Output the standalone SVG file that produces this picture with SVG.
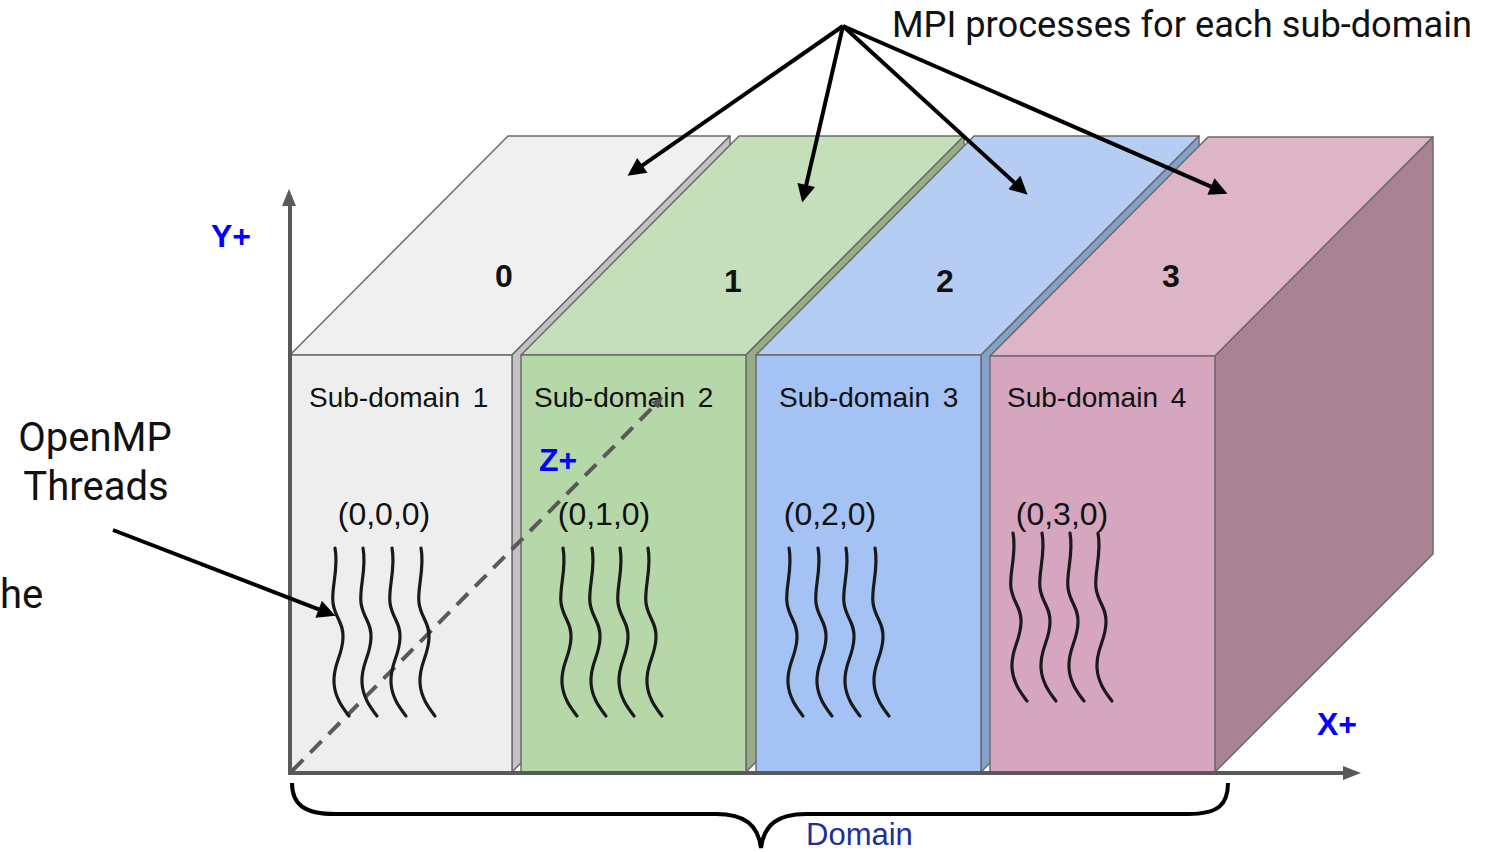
<svg xmlns="http://www.w3.org/2000/svg" width="1499" height="852" viewBox="0 0 1499 852">
  <style>
    .face { stroke: #6b6b6b; stroke-width: 1.5; stroke-linejoin: round; }
    .sub { font-family: "Liberation Sans", Arial, sans-serif; font-size: 28px; fill: #111; word-spacing: 5px; }
    .coord { font-family: "Liberation Sans", Arial, sans-serif; font-size: 32px; fill: #111; text-anchor: middle; }
    .rank { font-family: "Liberation Sans", Arial, sans-serif; font-size: 32px; font-weight: bold; fill: #111; text-anchor: middle; }
    .axislbl { font-family: "Liberation Sans", Arial, sans-serif; font-size: 32px; font-weight: bold; fill: #0000ff; }
    .note { font-family: Roboto, "Liberation Sans", sans-serif; fill: #111; }
    .thread { fill: none; stroke: #1a1a1a; stroke-width: 3.2; stroke-linecap: round; }
    .axis { fill: none; stroke: #595959; stroke-width: 4; }
    .pointer { fill: none; stroke: #000; stroke-width: 4; }
  </style>
  <defs>
    <marker id="head" viewBox="0 0 10 10" refX="7" refY="5" markerWidth="5" markerHeight="4.5" orient="auto" markerUnits="strokeWidth">
      <path d="M0,0 L10,5 L0,10 z" fill="#000"/>
    </marker>
    <marker id="zhead" viewBox="0 0 10 10" refX="5" refY="5" markerWidth="3" markerHeight="3" orient="auto" markerUnits="strokeWidth">
      <path d="M0,1 L10,5 L0,9 z" fill="#555"/>
    </marker>
    <path id="thread" class="thread" d="M0,0 C4,20 -4,40 -2,55 C0,70 9,75 8,90 C7,110 -2,115 -1,135 C0,150 8,160 14,168"/>
  </defs>

  <rect width="1499" height="852" fill="#ffffff"/>

  <!-- Sub-domain 1 -->
  <g id="slab1">
    <polygon class="face" fill="#f0f0f0" points="290,355 508,136 730,136 512,355"/>
    <polygon class="face" fill="#c2c2c2" points="512,355 730,136 730,553 512,772"/>
    <rect class="face" fill="#eeeeee" x="290" y="355" width="222" height="417"/>
    <text class="rank" x="504" y="287">0</text>
    <text class="sub" x="309" y="407">Sub-domain 1</text>
    <text class="coord" x="384" y="525">(0,0,0)</text>
  </g>

  <!-- Sub-domain 2 -->
  <g id="slab2">
    <polygon class="face" fill="#c6dfbb" points="521,355 739,136 964,136 746,355"/>
    <polygon class="face" fill="#95ae88" points="746,355 964,136 964,553 746,772"/>
    <rect class="face" fill="#b6d7a8" x="521" y="355" width="225" height="417"/>
    <text class="rank" x="733" y="292">1</text>
    <text class="sub" x="534" y="407">Sub-domain 2</text>
    <text class="coord" x="604" y="525">(0,1,0)</text>
  </g>

  <!-- Sub-domain 3 -->
  <g id="slab3">
    <polygon class="face" fill="#b5cdf3" points="756,355 974,136 1199,136 981,355"/>
    <polygon class="face" fill="#86a1c9" points="981,355 1199,136 1199,553 981,772"/>
    <rect class="face" fill="#a4c2f4" x="756" y="355" width="225" height="417"/>
    <text class="rank" x="945" y="292">2</text>
    <text class="sub" x="779" y="407">Sub-domain 3</text>
    <text class="coord" x="830" y="525">(0,2,0)</text>
  </g>

  <!-- Sub-domain 4 -->
  <g id="slab4">
    <polygon class="face" fill="#ddb5c7" points="990,356 1208,137 1433,137 1215,356"/>
    <polygon class="face" fill="#a98394" points="1215,356 1433,137 1433,554 1215,772"/>
    <rect class="face" fill="#d5a6bd" x="990" y="356" width="225" height="416"/>
    <text class="rank" x="1171" y="287">3</text>
    <text class="sub" x="1007" y="407">Sub-domain 4</text>
    <text class="coord" x="1062" y="525">(0,3,0)</text>
  </g>

  <!-- axes -->
  <g id="axes">
    <line class="axis" x1="290" y1="774" x2="290" y2="202"/>
    <polygon fill="#595959" points="289,189 282,206 296,206"/>
    <line class="axis" x1="288" y1="773" x2="1346" y2="773"/>
    <polygon fill="#595959" points="1361,773 1343,766 1343,780"/>
    <line x1="292" y1="771" x2="659" y2="401" stroke="#595959" stroke-width="4" stroke-dasharray="16,10" marker-end="url(#zhead)"/>
    <text class="axislbl" x="211" y="247">Y+</text>
    <text class="axislbl" x="539" y="471">Z+</text>
    <text class="axislbl" x="1317" y="735">X+</text>
  </g>

  <!-- OpenMP threads in each sub-domain -->
  <g id="threads">
    <use href="#thread" x="335" y="548"/>
    <use href="#thread" x="363" y="548"/>
    <use href="#thread" x="392" y="548"/>
    <use href="#thread" x="421" y="548"/>
    <use href="#thread" x="563" y="548"/>
    <use href="#thread" x="592" y="548"/>
    <use href="#thread" x="620" y="548"/>
    <use href="#thread" x="648" y="548"/>
    <use href="#thread" x="789" y="548"/>
    <use href="#thread" x="818" y="548"/>
    <use href="#thread" x="846" y="548"/>
    <use href="#thread" x="875" y="548"/>
    <use href="#thread" x="1013" y="533"/>
    <use href="#thread" x="1042" y="533"/>
    <use href="#thread" x="1070" y="533"/>
    <use href="#thread" x="1098" y="533"/>
  </g>

  <!-- labels -->
  <g id="mpi-label">
    <text class="note" x="892" y="37" font-size="36" textLength="580" lengthAdjust="spacingAndGlyphs">MPI processes for each sub-domain</text>
  </g>
  <g id="openmp-label">
    <text class="note" x="95" y="451" font-size="40" text-anchor="middle">OpenMP</text>
    <text class="note" x="96" y="500" font-size="40" text-anchor="middle">Threads</text>
  </g>
  <text class="note" x="0" y="608" font-size="40">he</text>

  <!-- pointers -->
  <g id="connectors">
    <line class="pointer" x1="843" y1="26" x2="632" y2="172.6" marker-end="url(#head)"/>
    <line class="pointer" x1="843" y1="26" x2="803.4" y2="197.2" marker-end="url(#head)"/>
    <line class="pointer" x1="843" y1="26" x2="1023.6" y2="191" marker-end="url(#head)"/>
    <line class="pointer" x1="843" y1="26" x2="1222.5" y2="191.6" marker-end="url(#head)"/>
    <line class="pointer" x1="113" y1="530" x2="330.4" y2="613.8" marker-end="url(#head)"/>
  </g>

  <!-- domain brace -->
  <g id="domain">
    <path d="M292,783 C292,805 305,814 335,814 L716,814 C745,814 758,825 761,848 C764,825 777,814 806,814 L1188,814 C1218,814 1228,805 1228,783" fill="none" stroke="#000" stroke-width="4"/>
    <text x="806" y="845" font-family="Liberation Sans, Arial, sans-serif" font-size="31" fill="#1f2f9c">Domain</text>
  </g>
</svg>
